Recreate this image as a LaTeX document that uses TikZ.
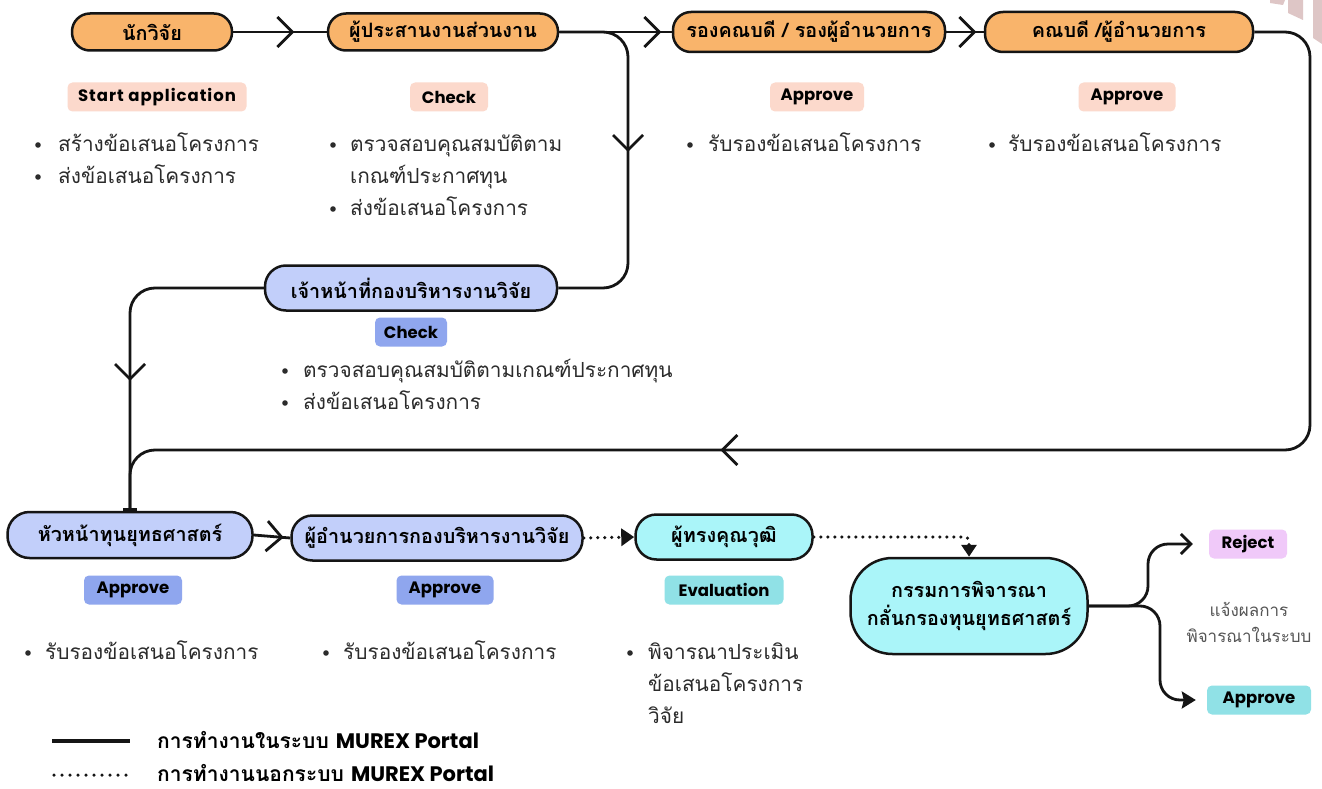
\documentclass[tikz,border=0pt]{standalone}
\usepackage{fontspec}
\usetikzlibrary{arrows.meta,decorations.markings}
\newfontfamily\thai[Script=Thai]{Loma}
\newfontfamily\latin{Poppins}
\newfontfamily\latinwide[LetterSpace=6]{Poppins}
\definecolor{orng}{HTML}{F9B46B}
\definecolor{bnode}{HTML}{C2CFFA}
\definecolor{cnode}{HTML}{AAF5F9}
\definecolor{pinklab}{HTML}{FCD9CC}
\definecolor{bluelab}{HTML}{8FA6EE}
\definecolor{cyanlab}{HTML}{90E1E6}
\definecolor{lavlab}{HTML}{F0C9F9}
\definecolor{txt}{HTML}{2B2B2B}
\definecolor{notegray}{HTML}{555555}
\definecolor{deco}{HTML}{DEC6C6}
\definecolor{ink}{HTML}{151515}
\tikzset{
  pill/.style={draw=ink, line width=2.5pt, rounded corners=18pt, inner sep=0pt,
    font=\thai\bfseries\fontsize{19.8}{28}\selectfont, text=black, align=center},
  onode/.style={pill, fill=orng},
  bnodest/.style={pill, fill=bnode},
  cnodest/.style={pill, fill=cnode},
  tag/.style={rounded corners=5pt, minimum height=29pt, inner xsep=0pt, inner ysep=0pt,
    font=\latin\bfseries\fontsize{16.5}{18}\selectfont, text=black},
  body/.style={font=\thai\fontsize{20.8}{32}\selectfont, text=txt, anchor=base west,
    align=left, inner sep=0pt},
  note/.style={font=\thai\fontsize{17}{26}\selectfont, text=notegray, align=center, inner sep=0pt},
  legend/.style={font=\thai\bfseries\fontsize{21}{22}\selectfont, text=black, anchor=base west, inner sep=0pt},
  conn/.style={line width=2.8pt, draw=ink, rounded corners=25pt},
  dotconn/.style={line width=3.5pt, draw=ink, dash pattern=on 0pt off 7pt, line cap=round},
  midarr/.style={postaction={decorate}, decoration={markings,
    mark=at position #1 with {\arrow{Straight Barb[length=15pt,width=30pt,line width=2.8pt]}}}},
}
\newcommand{\bul}[1]{\fill[txt] #1 circle (2.8pt);}
\begin{document}
\begin{tikzpicture}[x=1pt,y=-1pt]
\useasboundingbox (0,0) rectangle (1322,789);
\fill[white] (0,0) rectangle (1322,789);
% decoration top right
\fill[deco] (1270,0) -- (1285,0) -- (1283,5) -- (1270,3) -- cycle;
\fill[deco] (1288,0) -- (1303,0) -- (1303,20) -- (1288,13) -- cycle;
\fill[deco] (1313,0) -- (1322,0) -- (1322,44) -- (1313,38) -- cycle;

% nodes
\node[onode, minimum width=160pt, minimum height=37pt] (n1) at (152,32) {นักวิจัย};
\node[onode, minimum width=230pt, minimum height=37pt] (n2) at (443,32) {ผู้ประสานงานส่วนงาน};
\node[onode, minimum width=272pt, minimum height=40pt] (n3) at (809,32) {รองคณบดี / รองผู้อำนวยการ};
\node[onode, minimum width=268pt, minimum height=40pt] (n4) at (1119,32) {คณบดี /ผู้อำนวยการ};
\node[bnodest, minimum width=292pt, minimum height=45pt, rounded corners=21pt] (n5) at (411,288) {เจ้าหน้าที่กองบริหารงานวิจัย};
\node[bnodest, minimum width=245pt, minimum height=46pt, rounded corners=22pt] (n6) at (130,535) {หัวหน้าทุนยุทธศาสตร์};
\node[bnodest, minimum width=291pt, minimum height=45pt, rounded corners=21pt] (n7) at (437,538) {ผู้อำนวยการกองบริหารงานวิจัย};
\node[cnodest, minimum width=177pt, minimum height=45pt, rounded corners=21pt] (n8) at (724,537) {ผู้ทรงคุณวุฒิ};
\node[cnodest, minimum width=237pt, minimum height=96pt, rounded corners=42pt] (n9) at (969,606) {กรรมการพิจารณา\\กลั่นกรองทุนยุทธศาสตร์};

% tags
\node[tag, fill=pinklab, minimum width=179pt] (t1) at (157,97) {\latinwide Start application};
\node[tag, fill=pinklab, minimum width=78pt] (t2) at (449,97) {Check};
\node[tag, fill=pinklab, minimum width=94pt] (t3) at (817,97) {Approve};
\node[tag, fill=pinklab, minimum width=97pt] (t4) at (1127,97) {Approve};
\node[tag, fill=bluelab, minimum width=72pt] (t5) at (411,332) {Check};
\node[tag, fill=bluelab, minimum width=98pt] (t6) at (133,590) {Approve};
\node[tag, fill=bluelab, minimum width=97pt] (t7) at (445,590) {Approve};
\node[tag, fill=cyanlab, minimum width=119pt] (t8) at (724,590) {Evaluation};
\node[tag, fill=lavlab, minimum width=78pt] (rej) at (1248,544) {Reject};
\node[tag, fill=cyanlab, minimum width=104pt] (fapp) at (1259,700) {Approve};

% bullet texts (anchor = baseline of the last line)
\bul{(38,145)} \node[body] (b1a) at (58,151) {สร้างข้อเสนอโครงการ};
\bul{(38,177)} \node[body] (b1b) at (58,183) {ส่งข้อเสนอโครงการ};
\bul{(333,145)} \node[body] (b2a) at (350,183) {ตรวจสอบคุณสมบัติตาม\\เกณฑ์ประกาศทุน};
\bul{(333,209)} \node[body] (b2b) at (350,215) {ส่งข้อเสนอโครงการ};
\bul{(690,145)} \node[body] (b3) at (708,151) {รับรองข้อเสนอโครงการ};
\bul{(992,145)} \node[body] (b4) at (1008,151) {รับรองข้อเสนอโครงการ};
\bul{(285,371)} \node[body] (b5a) at (303,377) {ตรวจสอบคุณสมบัติตามเกณฑ์ประกาศทุน};
\bul{(285,403)} \node[body] (b5b) at (303,409) {ส่งข้อเสนอโครงการ};
\bul{(28,653)} \node[body] (b6) at (45,659) {รับรองข้อเสนอโครงการ};
\bul{(326,653)} \node[body] (b7) at (343,659) {รับรองข้อเสนอโครงการ};
\bul{(630,653)} \node[body] (b8) at (648,723) {พิจารณาประเมิน\\ข้อเสนอโครงการ\\วิจัย};

\node[note] (nt) at (1249,622) {แจ้งผลการ\\พิจารณาในระบบ};

% connectors
\coordinate (k1) at (628,288);
\coordinate (k2) at (1310,450);
\draw[conn, midarr=61pt] (n1.east) -- (n2.west);
\draw[conn, midarr=102pt] (n2.east) -- (n3.west);
\draw[conn, midarr=30pt] (n3.east) -- (n4.west);
\draw[conn, midarr=178pt] (n2.east) -| (k1) -- (n5.east);
\draw[conn, midarr=1042pt] (n4.east) -| (k2) -| (n6.north);
\draw[conn, midarr=216pt, -{Bar[width=14pt,line width=3pt]}] (n5.west) -| (n6.north);
\draw[conn, midarr=30pt] (n6.east) -- (n7.west);
\draw[dotconn, -{Triangle[length=13pt,width=17pt]}] (n7.east) -- (n8.west);
\draw[dotconn, rounded corners=4pt, -{Triangle[length=12pt,width=15pt]}] (n8.east) -| (n9.north);
\draw[conn, rounded corners=20pt, -{Straight Barb[length=10pt,width=20pt,line width=2.8pt]}, shorten >=16pt] (n9.east) -- (1148,606) |- (rej.west);
\draw[conn, rounded corners=20pt, -{Stealth[length=14pt,width=17pt,inset=2pt]}, shorten >=11pt] (n9.east) -- (1160,606) |- (fapp.west);

% legend
\coordinate (la) at (52,741); \coordinate (lb) at (130,741);
\coordinate (lc) at (54,775); \coordinate (ld) at (128,775);
\draw[line width=3.5pt, draw=ink] (la) -- (lb);
\draw[line width=3.5pt, draw=ink, dash pattern=on 0pt off 8pt, line cap=round] (lc) -- (ld);
\node[legend] (lg1) at (157,748) {การทำงานในระบบ {\latin MUREX Portal}};
\node[legend] (lg2) at (157,781) {การทำงานนอกระบบ {\latin MUREX Portal}};
\end{tikzpicture}
\end{document}
